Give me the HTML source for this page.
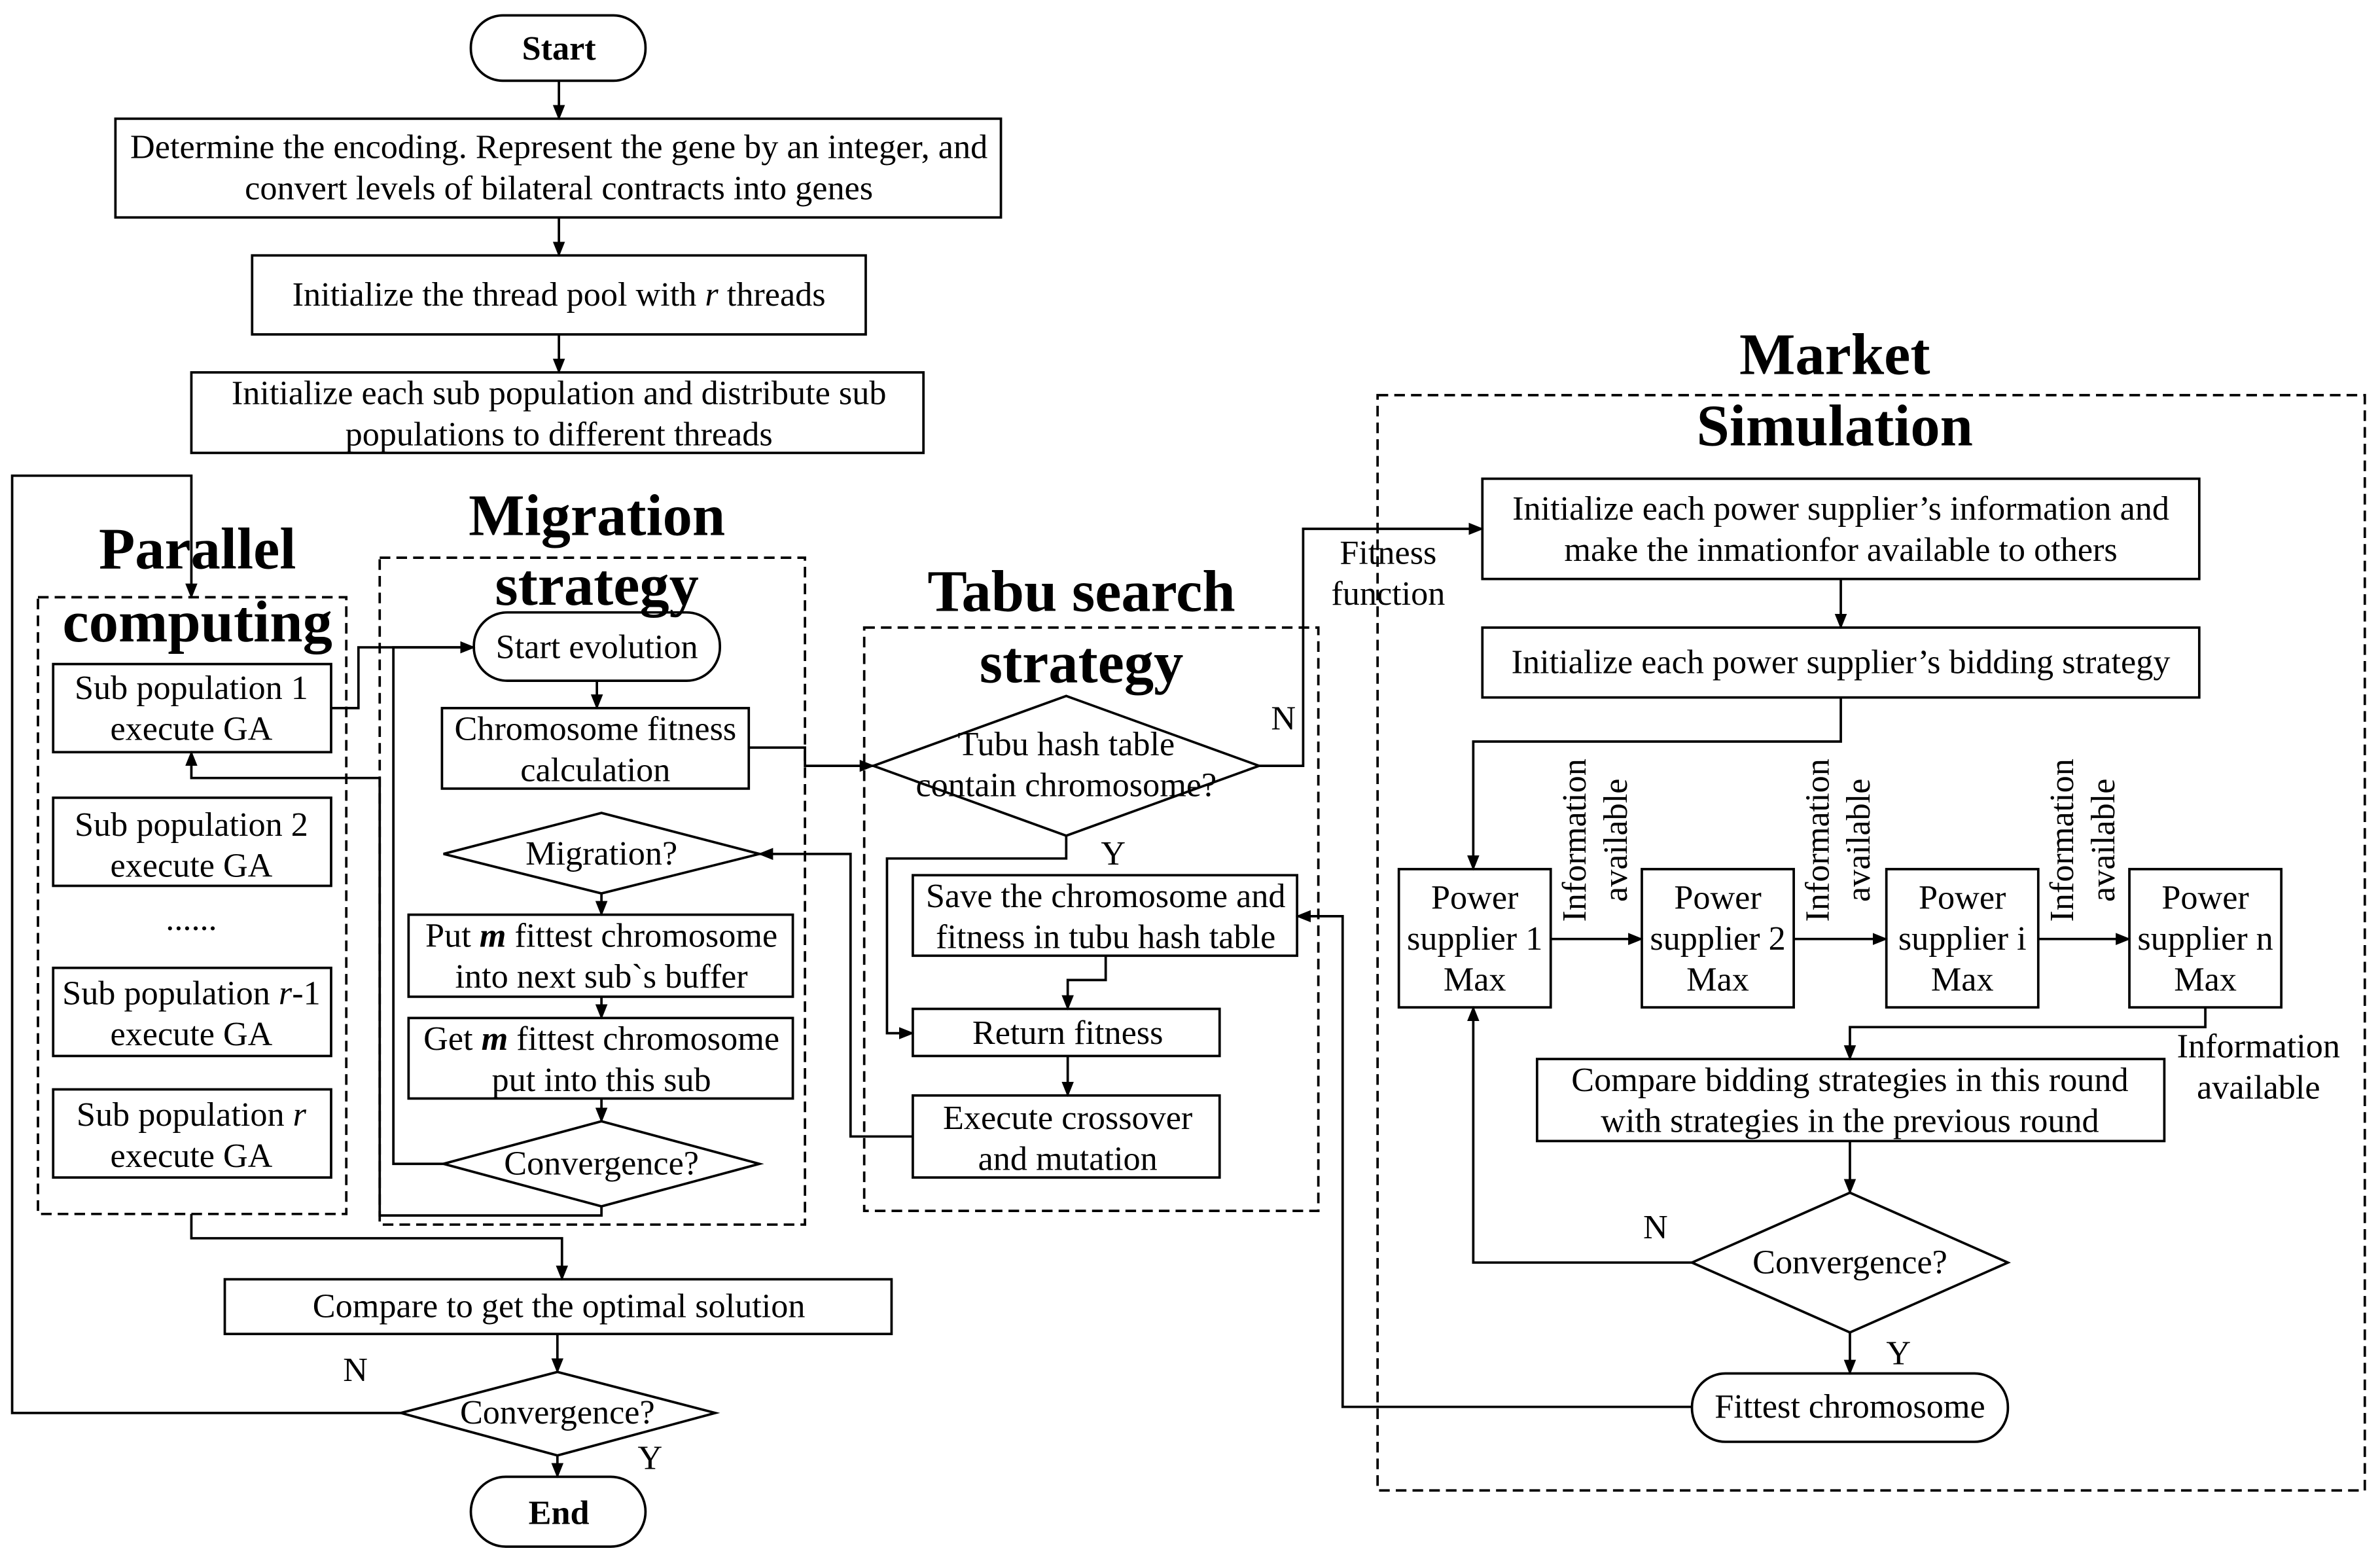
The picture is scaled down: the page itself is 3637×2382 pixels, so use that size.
<!DOCTYPE html>
<html><head><meta charset="utf-8"><style>html,body{margin:0;padding:0;background:#fff}svg{display:block}</style></head>
<body>
<svg width="3637" height="2382" viewBox="0 0 1567 1026" xmlns="http://www.w3.org/2000/svg" font-family="Liberation Serif, serif" font-size="22.5">
<defs><marker id="a" markerWidth="10" markerHeight="10" refX="9" refY="5" orient="auto" markerUnits="userSpaceOnUse"><path d="M0,1 L10,5 L0,9 Z" fill="#000"/></marker></defs>
<rect width="1567" height="1026" fill="#fff"/>
<g fill="none" stroke="#000" stroke-width="1.6">
<rect x="310" y="10" width="115" height="43" rx="21"/>
<rect x="76" y="78" width="583" height="65"/>
<rect x="166" y="168" width="404" height="52"/>
<rect x="126" y="245" width="482" height="53"/>
<rect x="25" y="393" width="203" height="406" stroke-dasharray="7,4"/>
<rect x="35" y="437" width="183" height="58"/><rect x="35" y="525" width="183" height="58"/>
<rect x="35" y="637" width="183" height="58"/><rect x="35" y="717" width="183" height="58"/>
<rect x="250" y="367" width="280" height="439" stroke-dasharray="7,4"/>
<rect x="312" y="403" width="162" height="45" rx="22"/>
<rect x="291" y="466" width="202" height="53"/>
<path d="M292,562 L396,535 L500,562 L396,588 Z"/>
<rect x="269" y="602" width="253" height="54"/>
<rect x="269" y="670" width="253" height="53"/>
<path d="M292,766 L396,738 L500,766 L396,794 Z"/>
<rect x="569" y="413" width="299" height="384" stroke-dasharray="7,4"/>
<path d="M575,504 L702,458 L829,504 L702,550 Z"/>
<rect x="601" y="576" width="253" height="53"/>
<rect x="601" y="664" width="202" height="31"/>
<rect x="601" y="721" width="202" height="54"/>
<rect x="907" y="260" width="650" height="721" stroke-dasharray="7,4"/>
<rect x="976" y="315" width="472" height="66"/>
<rect x="976" y="413" width="472" height="46"/>
<rect x="921" y="572" width="100" height="91"/><rect x="1081" y="572" width="100" height="91"/>
<rect x="1242" y="572" width="100" height="91"/><rect x="1402" y="572" width="100" height="91"/>
<rect x="1012" y="697" width="413" height="54"/>
<path d="M1114,831 L1218,785 L1322,831 L1218,877 Z"/>
<rect x="1114" y="904" width="208" height="45" rx="22"/>
<rect x="148" y="842" width="439" height="36"/>
<path d="M264,930 L367,903 L471,930 L367,958 Z"/>
<rect x="310" y="972" width="115" height="46" rx="23"/>
</g>
<g fill="none" stroke="#000" stroke-width="1.6" marker-end="url(#a)">
<path d="M368,53 V78"/><path d="M368,143 V168"/><path d="M368,220 V245"/>
<path d="M264,930 H8 V313 H126 V393"/>
<path d="M218,466 H236 V426 H312"/>
<path d="M292,766 H259 V426 H312"/>
<path d="M396,794 V800 H250 V512 H126 V495"/>
<path d="M393,448 V466"/>
<path d="M493,492 H530 V504 H575"/>
<path d="M396,588 V602"/><path d="M396,656 V670"/><path d="M396,723 V738"/>
<path d="M601,748 H560 V562 H500"/>
<path d="M829,504 H858 V348 H976"/>
<path d="M702,550 V565 H584 V680 H601"/>
<path d="M728,629 V645 H703 V664"/>
<path d="M703,695 V721"/>
<path d="M1114,926 H884 V603 H854"/>
<path d="M1212,381 V413"/>
<path d="M1212,459 V488 H970 V572"/>
<path d="M1021,618 H1081"/><path d="M1181,618 H1242"/><path d="M1342,618 H1402"/>
<path d="M1452,663 V676 H1218 V697"/>
<path d="M1218,751 V785"/>
<path d="M1114,831 H970 V663"/>
<path d="M1218,877 V904"/>
<path d="M126,799 V815 H370 V842"/>
<path d="M367,878 V903"/><path d="M367,958 V972"/>
</g>
<g text-anchor="middle" fill="#000">
<text x="368" y="39" font-weight="bold">Start</text>
<text x="368" y="104">Determine the encoding. Represent the gene by an integer, and</text>
<text x="368" y="131">convert levels of bilateral contracts into genes</text>
<text x="368" y="201">Initialize the thread pool with <tspan font-style="italic">r</tspan> threads</text>
<text x="368" y="266">Initialize each sub population and distribute sub</text>
<text x="368" y="293">populations to different threads</text>
<g font-size="39" font-weight="bold"><text x="130" y="374">Parallel</text><text x="130" y="422">computing</text>
<text x="393" y="352">Migration</text><text x="393" y="398">strategy</text>
<text x="712" y="402">Tabu search</text><text x="712" y="449">strategy</text>
<text x="1208" y="246">Market</text><text x="1208" y="293">Simulation</text></g>
<text x="126" y="460">Sub population 1</text><text x="126" y="487">execute GA</text>
<text x="126" y="550">Sub population 2</text><text x="126" y="577">execute GA</text>
<text x="126" y="612">......</text>
<text x="126" y="661">Sub population <tspan font-style="italic">r</tspan>-1</text><text x="126" y="688">execute GA</text>
<text x="126" y="741">Sub population <tspan font-style="italic">r</tspan></text><text x="126" y="768">execute GA</text>
<text x="393" y="433">Start evolution</text>
<text x="392" y="487">Chromosome fitness</text><text x="392" y="514">calculation</text>
<text x="396" y="569">Migration?</text>
<text x="396" y="623">Put <tspan font-style="italic" font-weight="bold">m</tspan> fittest chromosome</text><text x="396" y="650">into next sub`s buffer</text>
<text x="396" y="691">Get <tspan font-style="italic" font-weight="bold">m</tspan> fittest chromosome</text><text x="396" y="718">put into this sub</text>
<text x="396" y="773">Convergence?</text>
<text x="702" y="497">Tubu hash table</text><text x="702" y="524">contain chromosome?</text>
<text x="845" y="480">N</text><text x="733" y="569">Y</text>
<text x="728" y="597">Save the chromosome and</text><text x="728" y="624">fitness in tubu hash table</text>
<text x="703" y="687">Return fitness</text>
<text x="703" y="743">Execute crossover</text><text x="703" y="770">and mutation</text>
<text x="914" y="371">Fitness</text><text x="914" y="398">function</text>
<text x="1212" y="342">Initialize each power supplier’s information and</text>
<text x="1212" y="369">make the inmationfor available to others</text>
<text x="1212" y="443">Initialize each power supplier’s bidding strategy</text>
<text x="971" y="598">Power</text><text x="971" y="625">supplier 1</text><text x="971" y="652">Max</text>
<text x="1131" y="598">Power</text><text x="1131" y="625">supplier 2</text><text x="1131" y="652">Max</text>
<text x="1292" y="598">Power</text><text x="1292" y="625">supplier i</text><text x="1292" y="652">Max</text>
<text x="1452" y="598">Power</text><text x="1452" y="625">supplier n</text><text x="1452" y="652">Max</text>
<text transform="translate(1044,553) rotate(-90)">Information</text><text transform="translate(1071,553) rotate(-90)">available</text>
<text transform="translate(1204,553) rotate(-90)">Information</text><text transform="translate(1231,553) rotate(-90)">available</text>
<text transform="translate(1365,553) rotate(-90)">Information</text><text transform="translate(1392,553) rotate(-90)">available</text>
<text x="1487" y="696">Information</text><text x="1487" y="723">available</text>
<text x="1218" y="718">Compare bidding strategies in this round</text><text x="1218" y="745">with strategies in the previous round</text>
<text x="1218" y="838">Convergence?</text>
<text x="1090" y="815">N</text><text x="1250" y="898">Y</text>
<text x="1218" y="933">Fittest chromosome</text>
<text x="368" y="867">Compare to get the optimal solution</text>
<text x="367" y="937">Convergence?</text>
<text x="234" y="909">N</text><text x="428" y="967">Y</text>
<text x="368" y="1003" font-weight="bold">End</text>
</g>
</svg>
</body></html>
